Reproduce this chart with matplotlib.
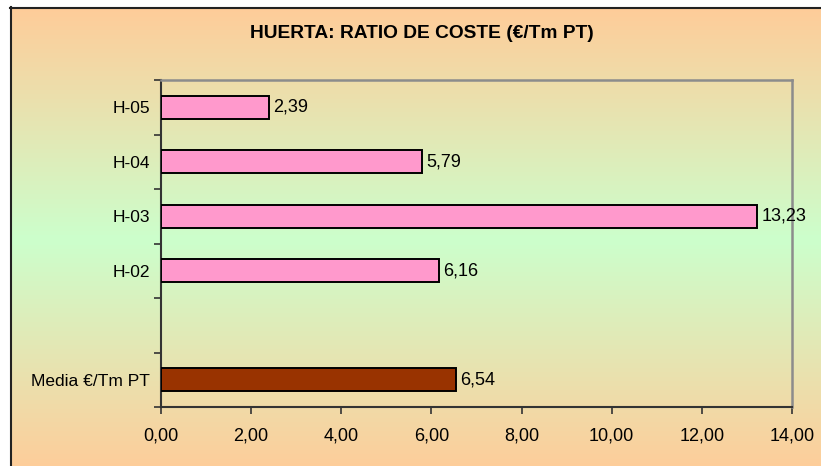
import numpy as np
import matplotlib
matplotlib.use("Agg")
import matplotlib.pyplot as plt

categories = ["H-05", "H-04", "H-03", "H-02", "", "Media €/Tm PT"]
values = [2.39, 5.79, 13.23, 6.16, None, 6.54]
bar_colors = ["#FF99CC", "#FF99CC", "#FF99CC", "#FF99CC", "#FF99CC", "#993300"]
x_ticks = [0, 2, 4, 6, 8, 10, 12, 14]
title = "HUERTA: RATIO DE COSTE (€/Tm PT)"

plt.rcParams['font.family'] = ['Liberation Sans', 'DejaVu Sans']

W, H = 821, 466
fig = plt.figure(figsize=(W / 100, H / 100), dpi=100)
fig.patch.set_facecolor("white")

# background gradient (chart area)
bg = fig.add_axes([0, 0, 1, 1], zorder=-10)
bg.set_xlim(0, W)
bg.set_ylim(H, 0)
bg.axis("off")
peach = np.array([255, 204, 153]) / 255
green = np.array([204, 255, 204]) / 255
ys = np.arange(7, H + 1)
mid = 240.0
t = np.clip(1 - np.abs(ys - mid) / (mid - 7), 0, 1)
grad = peach[None, :] * (1 - t[:, None]) + green[None, :] * t[:, None]
img = np.repeat(grad[:, None, :], 2, axis=1)
bg.imshow(img, extent=(10, W, H, 7), aspect="auto", interpolation="bilinear")
bg.plot([10.5, 10.5], [7, H], color="#222222", lw=1.5)
bg.plot([10, W], [7.5, 7.5], color="#222222", lw=1.5)

ax = fig.add_axes([161 / W, 1 - 407 / H, (792 - 161) / W, (407 - 80) / H])
ax.set_facecolor("none")

pos = np.arange(len(categories))
for i, (v, c) in enumerate(zip(values, bar_colors)):
    if v is None:
        continue
    ax.barh(pos[i], v, height=0.42, color=c, edgecolor="black", linewidth=1.4, zorder=3)
    ax.text(v + 0.1, pos[i], f"{v:.2f}".replace(".", ","), va="center", ha="left",
            fontsize=13, color="black", zorder=4)

ax.set_xlim(0, 14)
ax.set_ylim(len(categories) - 0.5, -0.5)
ax.set_xticks(x_ticks)
ax.set_xticklabels([f"{x:.2f}".replace(".", ",") for x in x_ticks], fontsize=13)
ax.set_yticks(np.arange(-0.5, len(categories), 1.0))
ax.set_yticklabels([])
ax.set_yticks(pos, minor=True)
ax.set_yticklabels(categories, minor=True, fontsize=12.5)
ax.tick_params(axis="y", which="minor", length=0, pad=8)
ax.tick_params(axis="y", which="major", length=5, width=1.2, color="#333333", direction="out")
ax.tick_params(axis="x", length=5, width=1.2, color="#333333", direction="out", pad=10)

for s in ["left", "bottom"]:
    ax.spines[s].set_color("#333333")
    ax.spines[s].set_linewidth(1.5)
for s in ["right", "top"]:
    ax.spines[s].set_color("#8C8C8C")
    ax.spines[s].set_linewidth(1.8)

fig.text(422 / W, 1 - 34 / H, title, ha="center", va="center", fontsize=13.8,
         fontweight="bold", color="black")

fig.savefig("out.png", dpi=100)
